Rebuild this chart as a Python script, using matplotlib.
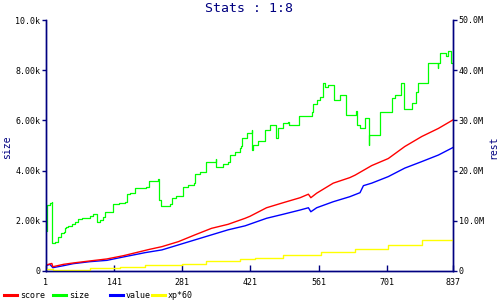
import matplotlib
matplotlib.use("Agg")
import matplotlib.pyplot as plt
from matplotlib.lines import Line2D

# ---- data ----
size_x = [1, 3, 9, 13, 14, 19, 26, 31, 37, 40, 43, 47, 54, 61, 67, 74, 91, 98, 106, 112, 119, 122,
          138, 139, 150, 163, 167, 174, 184, 206, 213, 232, 233, 237, 256, 259, 269, 283, 293, 306,
          307, 317, 329, 350, 351, 365, 375, 379, 389, 399, 402, 403, 413, 424, 425, 427, 437, 451,
          461, 473, 478, 488, 499, 501, 521, 547, 550, 557, 564, 569, 574, 581, 593, 605, 617, 638,
          640, 646, 656, 664, 665, 687, 711, 718, 730, 737, 752, 762, 766, 786, 806, 807, 810, 822,
          827, 833, 837]
size_v = [1600, 2630, 2700, 2750, 1100, 1170, 1370, 1500, 1560, 1700, 1760, 1800, 1860, 1960, 2070,
          2120, 2200, 2260, 1960, 2030, 2160, 2360, 2470, 2660, 2700, 2760, 3050, 3100, 3290, 3360,
          3590, 3670, 2830, 2600, 2660, 2920, 3000, 3360, 3430, 3490, 3850, 3950, 4350, 4460, 4150,
          4250, 4350, 4620, 4730, 4890, 4990, 5290, 5490, 5620, 4820, 5020, 5180, 5620, 5820, 5310,
          5690, 5880, 5950, 5820, 6180, 6350, 6640, 6820, 6940, 7480, 7350, 7430, 6810, 7010, 6210,
          6380, 5820, 5690, 6110, 5020, 5420, 6350, 6880, 7010, 7480, 6450, 6680, 7140, 7480, 8270,
          8100, 8270, 8670, 8550, 8770, 8270, 8270]

score_x = [1, 9, 13, 15, 37, 57, 91, 126, 160, 194, 213, 239, 273, 307, 341, 375, 410, 420, 454,
           488, 523, 540, 545, 557, 591, 625, 636, 670, 704, 738, 773, 807, 837]
score_v = [1.2, 1.4, 1.5, 0.85, 1.33, 1.6, 2.0, 2.4, 3.05, 3.85, 4.3, 4.85, 5.85, 7.2, 8.5, 9.3,
           10.5, 10.9, 12.6, 13.6, 14.6, 15.3, 14.6, 15.5, 17.5, 18.6, 19.1, 21.0, 22.4, 24.8, 26.8,
           28.4, 30.1]

value_x = [1, 9, 15, 37, 57, 91, 126, 160, 194, 204, 239, 273, 307, 341, 375, 410, 454, 488, 523,
           540, 545, 557, 591, 625, 646, 653, 670, 704, 738, 773, 807, 837]
value_v = [1.06, 1.33, 0.66, 1.06, 1.46, 1.86, 2.12, 2.8, 3.45, 3.65, 4.2, 5.2, 6.2, 7.2, 8.2, 9.0,
           10.5, 11.3, 12.15, 12.6, 11.8, 12.6, 13.8, 14.8, 15.6, 17.0, 17.5, 18.8, 20.5, 21.8, 23.1,
           24.6]

xp_x = [1, 16, 91, 153, 204, 280, 330, 400, 430, 488, 566, 636, 704, 773, 837]
xp_v = [0.4, 0.2, 0.53, 0.86, 1.1, 1.46, 2.0, 2.4, 2.6, 3.2, 3.7, 4.3, 5.2, 6.2, 6.6]

x_ticks = [1, 141, 281, 421, 561, 701, 837]
left_ticks = [0, 2000, 4000, 6000, 8000, 10000]
left_labels = ["0", "2.00k", "4.00k", "6.00k", "8.00k", "10.0k"]
right_ticks = [0, 10, 20, 30, 40, 50]
right_labels = ["0", "10.0M", "20.0M", "30.0M", "40.0M", "50.0M"]

NAVY = "#000080"
MONO = "DejaVu Sans Mono"
plt.rcParams["font.family"] = [MONO, "DejaVu Sans"]

fig = plt.figure(figsize=(5, 3), dpi=100)
ax = fig.add_axes([46 / 500, 29 / 300, 407 / 500, 251 / 300])
ax2 = ax.twinx()

ax.plot(size_x, size_v, color="#00FF00", lw=0.9, drawstyle="steps-post")
ax2.plot(xp_x, xp_v, color="#FFFF00", lw=1.0, drawstyle="steps-post")
ax2.plot(value_x, value_v, color="#0000FF", lw=1.0)
ax2.plot(score_x, score_v, color="#FF0000", lw=1.0)

ax.set_xlim(1, 837)
ax.set_ylim(0, 10000)
ax2.set_ylim(0, 50)

ax.set_xticks(x_ticks)
ax.set_xticklabels([str(t) for t in x_ticks])
ax.set_yticks(left_ticks)
ax.set_yticklabels(left_labels)
ax2.set_yticks(right_ticks)
ax2.set_yticklabels(right_labels)

for a in (ax, ax2):
    a.spines["top"].set_visible(False)
    for s in ("left", "right", "bottom"):
        a.spines[s].set_color(NAVY)
        a.spines[s].set_linewidth(1.0)
    a.patch.set_visible(False)

ax.tick_params(axis="x", direction="in", length=4, width=1, color=NAVY, pad=5,
               labelsize=6, labelcolor="black")
ax.tick_params(axis="y", direction="out", length=3, width=1, color=NAVY, pad=1,
               labelsize=6, labelcolor="black")
ax2.tick_params(axis="y", direction="out", length=3, width=1, color=NAVY, pad=1,
                labelsize=6, labelcolor="black")

fig.text(0.498, 0.972, "Stats : 1:8", ha="center", va="center", fontsize=9.5,
         color=NAVY, family=MONO)
fig.text(7 / 500, 1 - 147 / 300, "size", rotation=90, ha="center", va="center",
         fontsize=7, color=NAVY, family=MONO)
fig.text(493 / 500, 1 - 147 / 300, "rest", rotation=90, ha="center", va="center",
         fontsize=7, color=NAVY, family=MONO)

# legend
legend_items = [("score", "#FF0000", 4), ("size", "#00FF00", 53),
                ("value", "#0000FF", 110), ("xp*60", "#FFFF00", 152)]
ly = 1 - 295 / 300
for lab, col, px in legend_items:
    fig.add_artist(Line2D([px / 500, (px + 13) / 500], [ly, ly], color=col, lw=2.2,
                          transform=fig.transFigure))
    fig.text((px + 16) / 500, ly, lab, ha="left", va="center", fontsize=6,
             color="black", family=MONO)

fig.savefig("out.png", dpi=100)
